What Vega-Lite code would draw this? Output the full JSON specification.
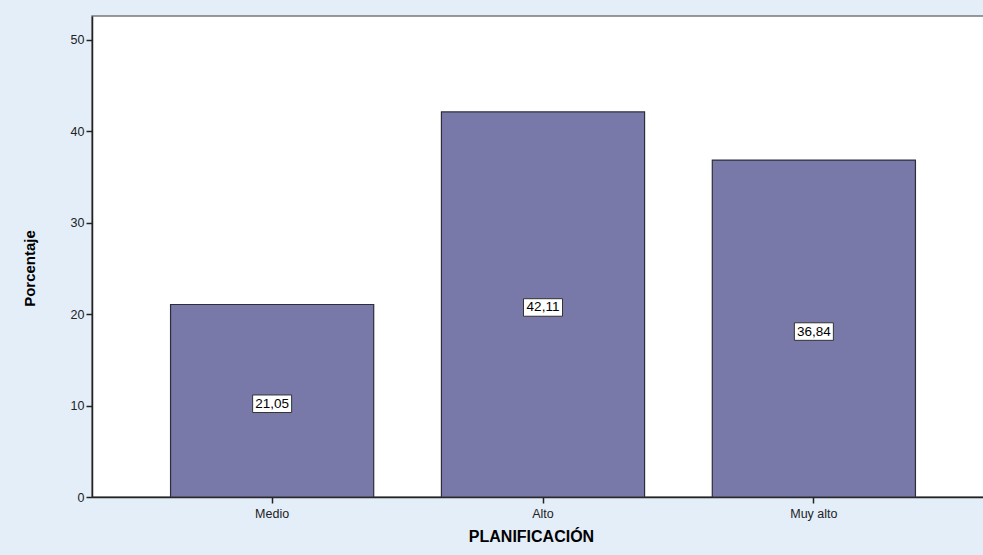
{
  "$schema": "https://vega.github.io/schema/vega-lite/v6.json",
  "autosize": {"type": "none"},
  "width": 902,
  "height": 481,
  "padding": {"left": 92, "top": 16, "right": 0, "bottom": 58},
  "background": "#e3eef9",
  "config": {
    "view": {"fill": "#ffffff", "stroke": "#7a7a7a", "strokeWidth": 1.5},
    "font": "Liberation Sans"
  },
  "data": {
    "values": [
      {"nivel": "Medio", "porcentaje": 21.05, "etiqueta": "21,05"},
      {"nivel": "Alto", "porcentaje": 42.11, "etiqueta": "42,11"},
      {"nivel": "Muy alto", "porcentaje": 36.84, "etiqueta": "36,84"}
    ]
  },
  "transform": [{"calculate": "datum.porcentaje / 2", "as": "mitad"}],
  "encoding": {
    "x": {
      "field": "nivel",
      "type": "nominal",
      "sort": ["Medio", "Alto", "Muy alto"],
      "scale": {"paddingInner": 0.25, "paddingOuter": 0.29},
      "axis": {
        "title": "PLANIFICACIÓN",
        "titleFont": "Liberation Sans",
        "titleFontSize": 16,
        "titleFontWeight": "bold",
        "titleColor": "#000000",
        "titlePadding": 9,
        "titleX": 439,
        "labelAngle": 0,
        "labelFontSize": 12.5,
        "labelColor": "#222222",
        "labelPadding": 4,
        "tickColor": "#222222",
        "tickSize": 6,
        "tickWidth": 1.5,
        "domainColor": "#222222",
        "domainWidth": 1.5
      }
    }
  },
  "layer": [
    {
      "mark": {"type": "bar", "fill": "#7879a8", "stroke": "#2e2e3a", "strokeWidth": 1.2},
      "encoding": {
        "y": {
          "field": "porcentaje",
          "type": "quantitative",
          "scale": {"domain": [0, 52.6], "nice": false},
          "axis": {
            "title": "Porcentaje",
            "titleFont": "Liberation Sans",
            "titleFontSize": 15,
            "titleFontWeight": "bold",
            "titleColor": "#000000",
            "titlePadding": 33,
            "titleY": 252,
            "values": [0, 10, 20, 30, 40, 50],
            "grid": false,
            "labelFontSize": 12.5,
            "labelColor": "#222222",
            "labelPadding": 2,
            "tickColor": "#222222",
            "tickSize": 6,
            "tickWidth": 1.5,
            "domainColor": "#222222",
            "domainWidth": 1.5
          }
        }
      }
    },
    {
      "mark": {
        "type": "point",
        "shape": "M-1,-0.45L1,-0.45L1,0.45L-1,0.45Z",
        "size": 1521,
        "filled": true,
        "fill": "#ffffff",
        "stroke": "#333333",
        "strokeWidth": 1,
        "opacity": 1,
        "yOffset": 3
      },
      "encoding": {
        "y": {"field": "mitad", "type": "quantitative"}
      }
    },
    {
      "mark": {"type": "text", "font": "Liberation Sans", "fontSize": 13.5, "color": "#000000", "baseline": "middle", "align": "center", "yOffset": 3},
      "encoding": {
        "y": {"field": "mitad", "type": "quantitative"},
        "text": {"field": "etiqueta"}
      }
    }
  ]
}
